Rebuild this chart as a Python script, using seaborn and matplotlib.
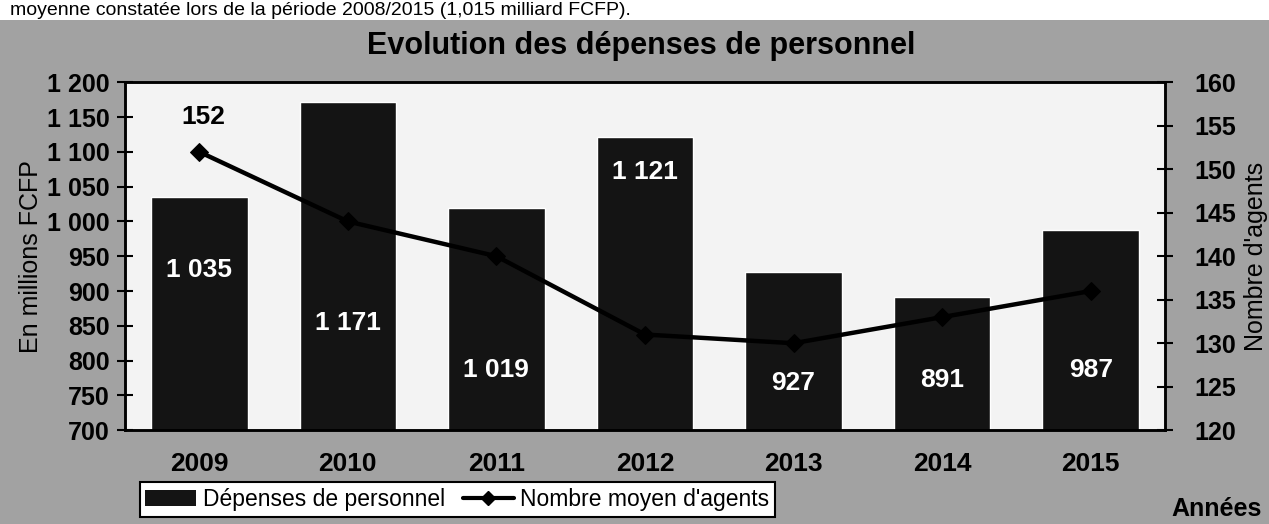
import matplotlib
matplotlib.use("Agg")
import matplotlib.pyplot as plt
import matplotlib.patches as mpatches
from matplotlib.lines import Line2D
from matplotlib.ticker import FuncFormatter, MultipleLocator, FixedLocator
import seaborn as sns
import pandas as pd
import numpy as np

# -----------------------
# Data
# -----------------------
years = ["2009", "2010", "2011", "2012", "2013", "2014", "2015"]
depenses = [1035, 1171, 1019, 1121, 927, 891, 987]          # millions FCFP
agents = [152, 144, 140, 131, 130, 133, 136]                 # nombre moyen d'agents
bar_labels = ["1 035", "1 171", "1 019", "1 121", "927", "891", "987"]
bar_label_y = [930, 854, 786, 1071, 768, 772, 786]           # where the white labels sit

df = pd.DataFrame({"annee": years, "depenses": depenses, "agents": agents})
df["pos"] = np.arange(len(df))

# -----------------------
# Style
# -----------------------
sns.set_theme(style="white")
plt.rcParams["font.family"] = ["Liberation Sans", "DejaVu Sans"]
plt.rcParams["text.color"] = "black"
plt.rcParams["axes.labelcolor"] = "black"

fig = plt.figure(figsize=(12.69, 5.24), dpi=100, facecolor="#a2a2a2")
# white strip of the scanned page at the top
fig.patches.append(mpatches.Rectangle((0, 0.962), 1, 0.04, transform=fig.transFigure,
                                      facecolor="white", edgecolor="none", zorder=0))
fig.text(0.008, 0.980, "moyenne constatée lors de la période 2008/2015 (1,015 milliard FCFP).",
         fontsize=14, color="black", ha="left", va="center")

ax = fig.add_axes([0.0985, 0.179, 0.8195, 0.664])
ax.set_facecolor("#f3f3f3")

sns.barplot(data=df, x="annee", y="depenses", color="#141414", width=0.65,
            saturation=1, ax=ax, zorder=2)
ax.set_ylim(700, 1200)
ax.set_xlim(-0.5, len(years) - 0.5)
ax.yaxis.set_major_locator(MultipleLocator(50))
ax.yaxis.set_major_formatter(FuncFormatter(lambda v, p: f"{int(v):,}".replace(",", " ")))
ax.set_xlabel("")
ax.set_ylabel("En millions FCFP", fontsize=18, color="black")
ax.yaxis.set_label_coords(-0.079, 0.5)

for i, (lab, ly) in enumerate(zip(bar_labels, bar_label_y)):
    ax.text(i, ly, lab, color="white", fontsize=19, fontweight="bold",
            ha="center", va="center", zorder=5)

# -----------------------
# Secondary axis: agents
# -----------------------
ax2 = ax.twinx()
sns.lineplot(data=df, x="pos", y="agents", ax=ax2, color="black", linewidth=3.2,
             marker="D", markersize=9, markeredgecolor="black")
ax2.set_ylim(120, 160)
ax2.yaxis.set_major_locator(MultipleLocator(5))
ax2.set_xlim(-0.5, len(years) - 0.5)
ax2.set_xlabel("")
ax2.set_ylabel("Nombre d'agents", fontsize=18, color="black")
ax2.yaxis.set_label_coords(1.076, 0.5)
ax2.annotate(str(agents[0]), (0, agents[0]), xytext=(3, 25), textcoords="offset points",
             ha="center", va="center", fontsize=19, fontweight="bold", color="black")

for a in (ax, ax2):
    for s in a.spines.values():
        s.set_color("black")
        s.set_linewidth(1.8)
    a.tick_params(axis="y", direction="inout", length=12, width=1.5,
                  labelsize=18, colors="black")
    for t in a.get_yticklabels():
        t.set_fontweight("bold")

ax.tick_params(axis="x", length=0, labelsize=19, pad=16, colors="black")
for t in ax.get_xticklabels():
    t.set_fontweight("bold")
ax.xaxis.set_minor_locator(FixedLocator(np.arange(-0.5, len(years), 1)))
ax.tick_params(axis="x", which="minor", direction="in", length=7, width=1.5, color="black")
ax.tick_params(axis="y", pad=5)
ax2.tick_params(axis="y", pad=15)

# -----------------------
# Title, legend, footer
# -----------------------
fig.text(0.505, 0.912, "Evolution des dépenses de personnel", fontsize=22,
         fontweight="bold", ha="center", va="center", color="black")

handles = [mpatches.Patch(facecolor="#141414", edgecolor="none", label="Dépenses de personnel"),
           Line2D([0], [0], color="black", linewidth=3, marker="D", markersize=7,
                  label="Nombre moyen d'agents")]
leg = fig.legend(handles=handles, loc="lower left", bbox_to_anchor=(0.101, -0.008),
                 ncol=2, fontsize=16.5, frameon=True, fancybox=False, framealpha=1,
                 edgecolor="black", facecolor="white", borderpad=0.25,
                 handlelength=2.2, handletextpad=0.3, columnspacing=0.8)
leg.get_frame().set_linewidth(1.5)
for t in leg.get_texts():
    t.set_color("black")

fig.text(0.994, 0.028, "Années", fontsize=18, fontweight="bold", ha="right",
         va="center", color="black")

fig.savefig("out.png", dpi=100, facecolor=fig.get_facecolor())
